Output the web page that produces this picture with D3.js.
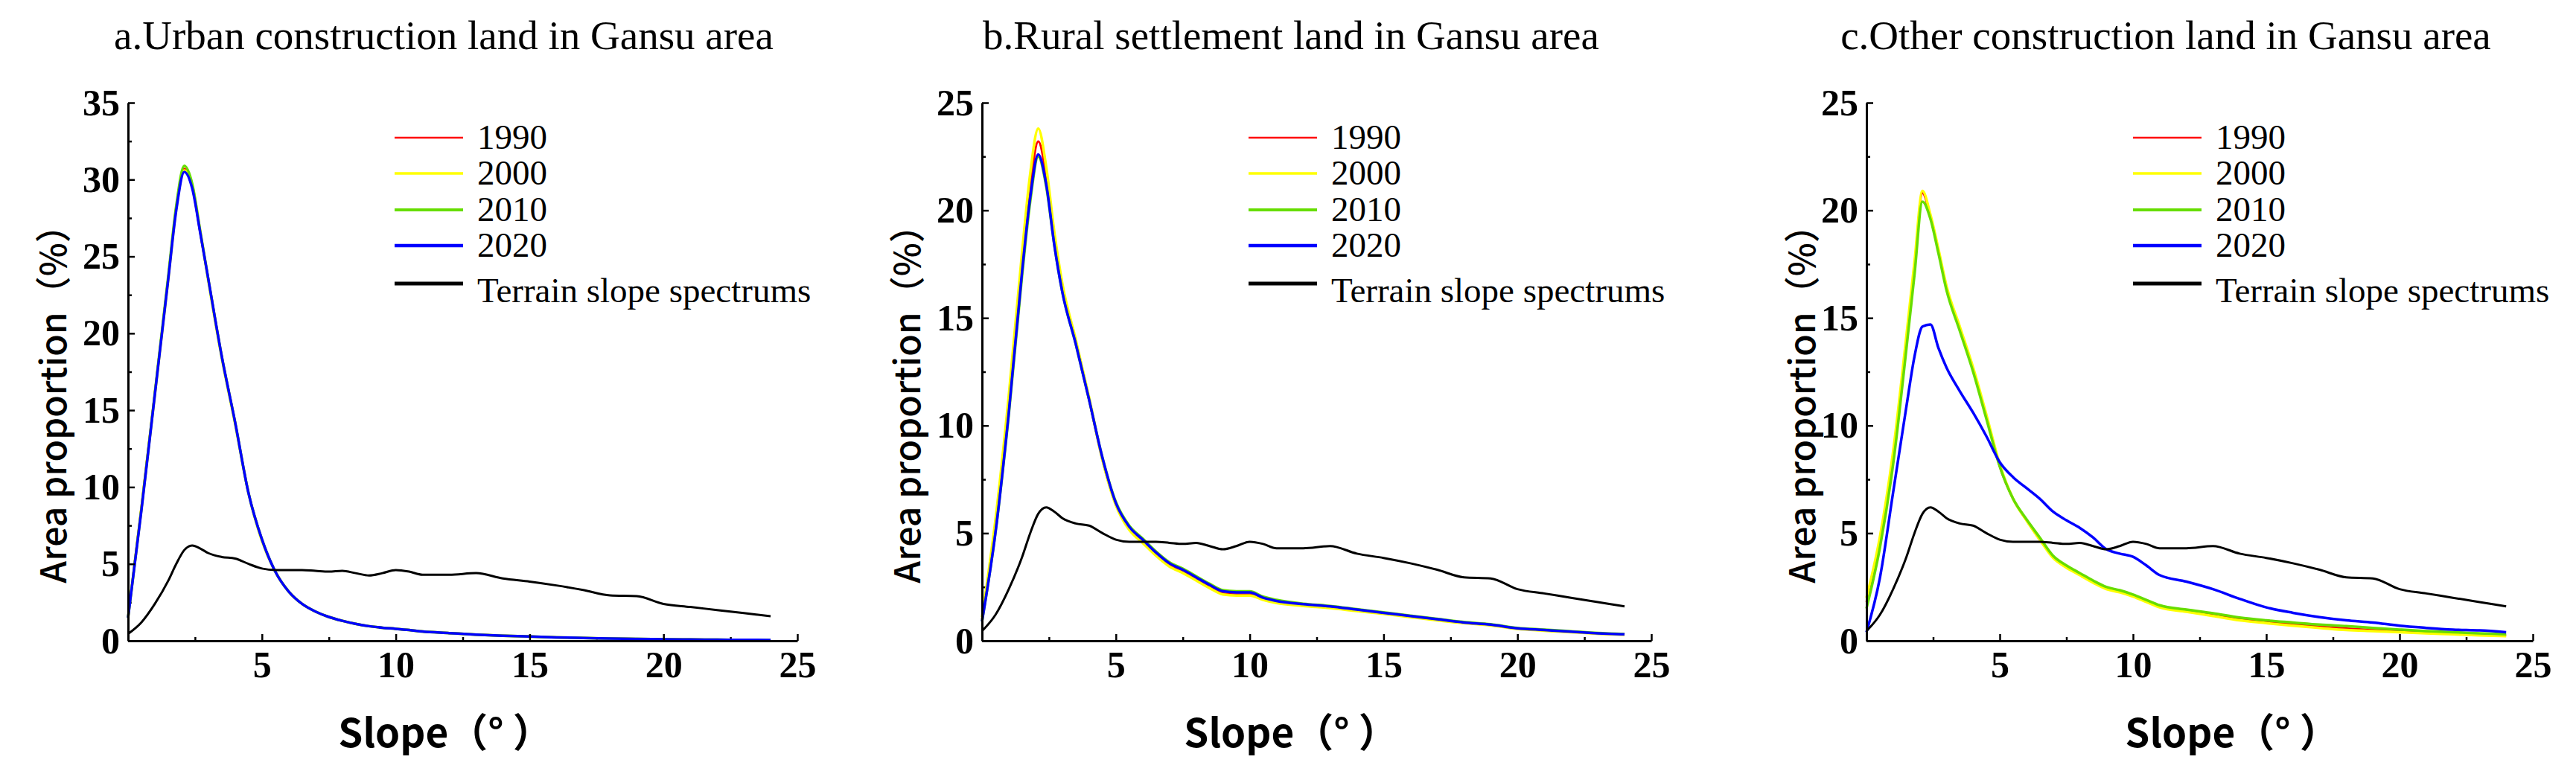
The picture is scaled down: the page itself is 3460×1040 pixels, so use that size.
<!DOCTYPE html>
<html><head><meta charset="utf-8">
<script src="https://cdn.jsdelivr.net/npm/d3@7"></script>
<style>html,body{margin:0;padding:0;background:#fff;}</style>
</head><body>
<svg id="chart" width="3460" height="1040"></svg>
<script>
// ---------- DATA ----------
const slope = [0,0.5,1,1.5,1.8,2.1,2.4,2.7,3,3.5,4,4.5,5,5.5,6,6.5,7,7.5,8,8.5,9,9.5,10,10.5,11,12,13,14,15,16,17,18,19,20,21,22,23,24];
const terrain = [0.45,1.2,2.4,3.9,5.0,5.9,6.2,6.0,5.7,5.45,5.35,5.0,4.7,4.6,4.6,4.6,4.55,4.5,4.55,4.4,4.25,4.4,4.6,4.5,4.3,4.3,4.4,4.05,3.85,3.6,3.3,2.95,2.9,2.4,2.2,2.0,1.8,1.6];

const urban1990 = [1.5,8.7,16.1,23.6,28.2,30.7,29.5,26.5,23.5,18.5,14.2,9.6,6.6,4.5,3.2,2.4,1.9,1.55,1.3,1.1,0.95,0.85,0.78,0.7,0.6,0.5,0.4,0.33,0.28,0.22,0.18,0.15,0.12,0.1,0.08,0.07,0.06,0.05];
const urban2000 = [1.5,8.6,16.0,23.5,28.1,30.6,29.6,26.6,23.4,18.4,14.1,9.6,6.5,4.5,3.2,2.4,1.9,1.55,1.3,1.1,0.95,0.85,0.78,0.7,0.6,0.5,0.4,0.33,0.28,0.22,0.18,0.15,0.12,0.1,0.08,0.07,0.06,0.05];
const urban2010 = [1.5,8.6,16.1,23.7,28.3,30.9,29.7,26.6,23.5,18.5,14.2,9.6,6.6,4.5,3.2,2.4,1.9,1.55,1.3,1.1,0.95,0.85,0.78,0.7,0.6,0.5,0.4,0.33,0.28,0.22,0.18,0.15,0.12,0.1,0.08,0.07,0.06,0.05];
const urban2020 = [1.5,8.5,16.0,23.5,28.0,30.5,29.4,26.5,23.5,18.5,14.2,9.6,6.6,4.5,3.2,2.4,1.9,1.55,1.3,1.1,0.95,0.85,0.78,0.7,0.6,0.5,0.4,0.33,0.28,0.22,0.18,0.15,0.12,0.1,0.08,0.07,0.06,0.05];

const rural1990 = [1.0,5.3,11.0,17.6,21.1,23.2,21.6,18.7,16.4,13.9,11.2,8.4,6.35,5.2,4.6,4.0,3.5,3.2,2.85,2.5,2.2,2.15,2.15,1.95,1.8,1.65,1.55,1.4,1.27,1.12,0.97,0.83,0.73,0.56,0.48,0.41,0.34,0.29];
const rural2000 = [1.1,5.6,11.4,18.1,21.7,23.8,22.0,19.0,16.6,14.0,11.3,8.4,6.3,5.15,4.55,3.95,3.45,3.15,2.8,2.45,2.15,2.1,2.1,1.9,1.75,1.62,1.52,1.38,1.25,1.1,0.95,0.82,0.72,0.55,0.47,0.4,0.33,0.28];
const rural2010 = [0.9,5.0,10.5,17.0,20.4,22.5,21.1,18.4,16.2,13.8,11.2,8.5,6.45,5.35,4.75,4.15,3.65,3.35,3.0,2.65,2.35,2.3,2.3,2.05,1.9,1.72,1.62,1.47,1.32,1.17,1.02,0.87,0.77,0.6,0.52,0.44,0.36,0.31];
const rural2020 = [0.9,5.0,10.6,17.2,20.6,22.6,21.2,18.4,16.2,13.8,11.2,8.5,6.4,5.3,4.7,4.1,3.6,3.3,2.95,2.6,2.3,2.25,2.25,2.0,1.85,1.7,1.6,1.45,1.3,1.15,1.0,0.85,0.75,0.58,0.5,0.42,0.35,0.3];

const other1990 = [1.8,4.6,8.5,13.9,17.3,20.8,19.7,18.1,16.4,14.5,12.6,10.4,8.1,6.6,5.6,4.7,3.9,3.45,3.1,2.75,2.45,2.3,2.1,1.85,1.6,1.4,1.2,1.0,0.88,0.76,0.66,0.57,0.5,0.44,0.38,0.33,0.28,0.25];
const other2000 = [2.0,4.8,8.8,14.2,17.6,20.9,19.8,18.2,16.5,14.6,12.7,10.5,8.2,6.6,5.6,4.7,3.85,3.4,3.05,2.7,2.4,2.25,2.05,1.8,1.55,1.35,1.15,0.95,0.82,0.7,0.6,0.5,0.45,0.4,0.35,0.3,0.25,0.22];
const other2010 = [1.5,4.3,8.2,13.6,17.0,20.4,19.6,18.0,16.3,14.4,12.5,10.3,8.1,6.6,5.65,4.8,3.95,3.5,3.15,2.8,2.5,2.35,2.15,1.9,1.65,1.45,1.28,1.08,0.95,0.85,0.75,0.68,0.6,0.52,0.45,0.4,0.35,0.3];
const other2020 = [0.4,2.9,6.9,10.9,13.2,14.6,14.7,13.6,12.7,11.6,10.6,9.5,8.3,7.6,7.1,6.6,6.0,5.6,5.25,4.8,4.25,4.05,3.9,3.5,3.05,2.75,2.4,1.95,1.55,1.3,1.1,0.95,0.85,0.7,0.6,0.52,0.48,0.4];

const seriesNames = ["1990","2000","2010","2020","Terrain slope spectrums"];
const titles = ["a.Urban construction land in Gansu area","b.Rural settlement land in Gansu area","c.Other construction land in Gansu area"];
const yMaxes = [35,25,25];
const xTicks = [5,10,15,20,25];
const yTicksA = [0,5,10,15,20,25,30,35];
const yTicksBC = [0,5,10,15,20,25];
const xLabel = "Slope（°  ）";
const yLabel = "Area proportion（%）";

// ---------- STYLE / LAYOUT ----------
const colors = ["#ff0000","#ffff00","#66dd00","#0000ff","#000000"];
const curveWidths = [3,3.5,3.5,3.5,3];
const legendWidths = [2.5,3.5,4,4.5,5];
const panels = [
  {left:172,  right:1071, titleX:596,  xLabX:598,  yLabX:68,   yTicks:yTicksA,  data:[urban1990,urban2000,urban2010,urban2020,terrain]},
  {left:1319, right:2218, titleX:1734, xLabX:1734, yLabX:1215, yTicks:yTicksBC, data:[rural1990,rural2000,rural2010,rural2020,terrain]},
  {left:2507, right:3402, titleX:2909, xLabX:2998, yLabX:2417, yTicks:yTicksBC, data:[other1990,other2000,other2010,other2020,terrain]}
];
const plotTop = 138, plotBottom = 861;
const serif = "'Liberation Serif','Times New Roman',serif";
const sans = "'Noto Sans CJK SC','Noto Sans',sans-serif";

const svg = d3.select("#chart");
svg.append("rect").attr("width",3460).attr("height",1040).attr("fill","#fff");

panels.forEach((p,i)=>{
  const x = d3.scaleLinear().domain([0,25]).range([p.left,p.right]);
  const y = d3.scaleLinear().domain([0,yMaxes[i]]).range([plotBottom,plotTop]);
  const g = svg.append("g");

  g.append("text").attr("x",p.titleX).attr("y",66).attr("text-anchor","middle")
    .attr("font-family",serif).attr("font-size",55).text(titles[i]);

  const yMinor = d3.range(2.5, yMaxes[i], 5);
  g.append("g").attr("transform",`translate(${p.left},0)`)
    .call(d3.axisLeft(y).tickValues(yMinor).tickSize(-5).tickFormat(""))
    .call(a=>{a.select(".domain").remove(); a.selectAll("line").attr("stroke-width",2.5);});
  g.append("g").attr("transform",`translate(0,${plotBottom})`)
    .call(d3.axisBottom(x).tickValues(d3.range(2.5,25,5)).tickSize(-5).tickFormat(""))
    .call(a=>{a.select(".domain").remove(); a.selectAll("line").attr("stroke-width",2.5);});

  const line = d3.line().x((d,j)=>x(slope[j])).y(d=>y(d)).curve(d3.curveMonotoneX);
  p.data.forEach((arr,k)=>{
    g.append("path").datum(arr).attr("d",line).attr("fill","none")
      .attr("stroke",colors[k]).attr("stroke-width",curveWidths[k]).attr("stroke-linejoin","round");
  });

  g.append("g").attr("transform",`translate(${p.left},0)`)
    .call(d3.axisLeft(y).tickValues(p.yTicks).tickSize(-9).tickSizeOuter(0).tickPadding(11))
    .call(a=>{
      a.select(".domain").attr("stroke-width",3);
      a.selectAll("line").attr("stroke-width",2.5);
      a.selectAll("text").attr("font-family",serif).attr("font-weight","bold").attr("font-size",50).attr("fill","#000");
    });
  g.append("g").attr("transform",`translate(0,${plotBottom})`)
    .call(d3.axisBottom(x).tickValues(xTicks).tickSize(-9).tickSizeOuter(0))
    .call(a=>{
      a.select(".domain").attr("stroke-width",3);
      a.selectAll("line").attr("stroke-width",2.5);
      a.selectAll("text").attr("font-family",serif).attr("font-weight","bold").attr("font-size",50)
        .attr("fill","#000").attr("y",49).attr("dy",0);
    });

  g.append("text").attr("x",p.xLabX).attr("y",1004).attr("text-anchor","middle")
    .attr("font-family",sans).attr("font-weight",600).attr("font-size",53).text(xLabel);
  g.append("text").attr("transform",`translate(${p.yLabX},531) rotate(-90)`)
    .attr("text-anchor","middle").attr("dominant-baseline","central")
    .attr("font-family",sans).attr("font-weight",500).attr("font-size",48).text(yLabel);

  const lineYs = [185,233,282,330,381];
  const textYs = [200,248,297,345,406];
  seriesNames.forEach((n,k)=>{
    g.append("line").attr("x1",p.left+358).attr("x2",p.left+450)
      .attr("y1",lineYs[k]).attr("y2",lineYs[k])
      .attr("stroke",colors[k]).attr("stroke-width",legendWidths[k]);
    g.append("text").attr("x",p.left+469).attr("y",textYs[k])
      .attr("font-family",serif).attr("font-size",47).text(n);
  });
});
</script>
</body></html>
